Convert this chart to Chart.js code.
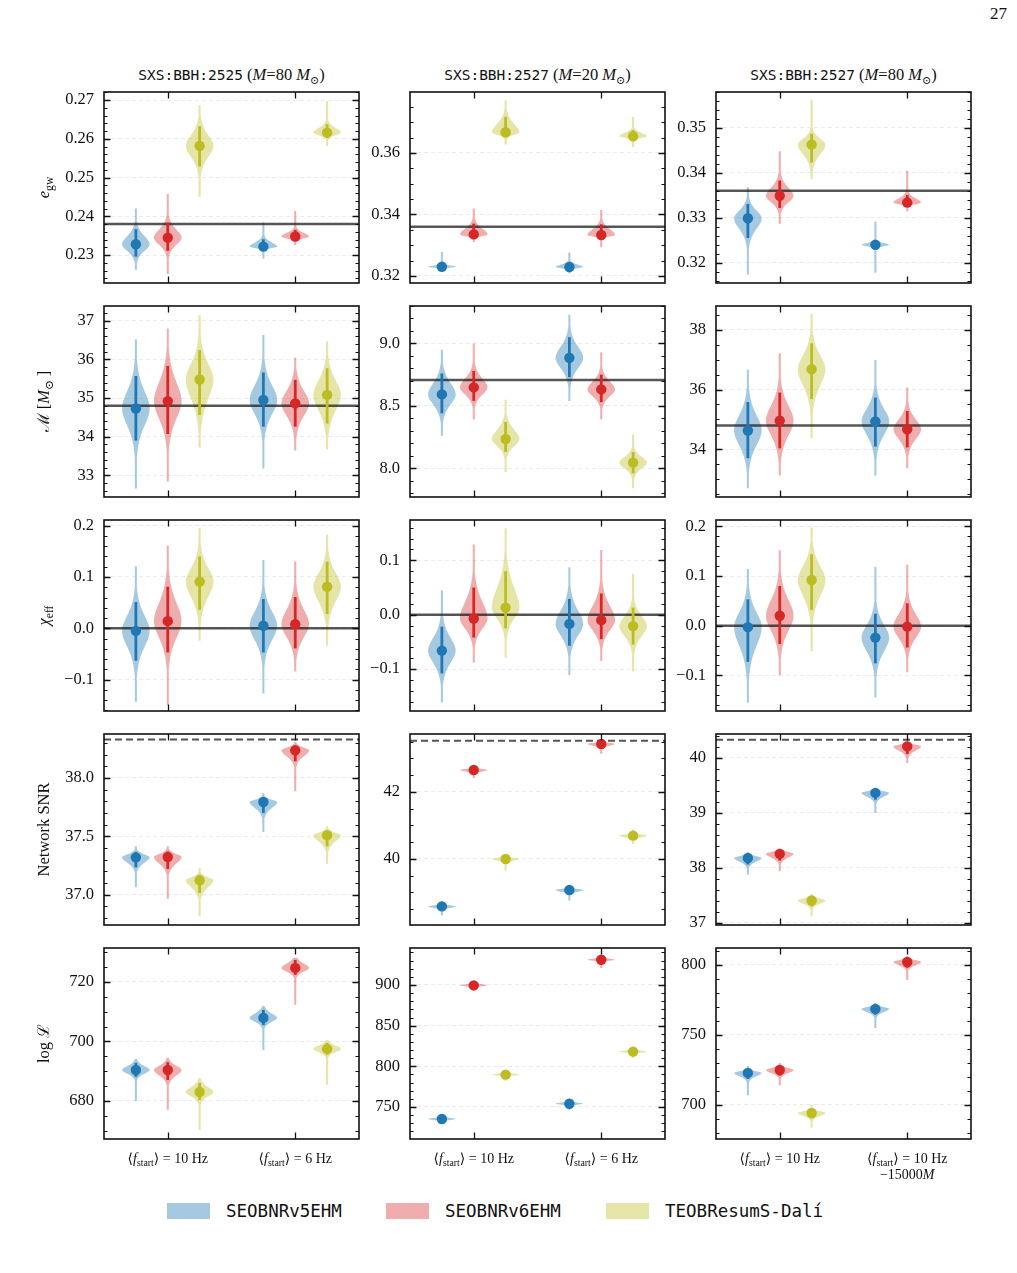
<!DOCTYPE html>
<html>
<head>
<meta charset="utf-8">
<script src="https://cdn.jsdelivr.net/npm/chart.js@4.4.1/dist/chart.umd.min.js"></script>
<style>
  body { margin: 0; background: #fff; width: 1017px; height: 1273px; position: relative; overflow: hidden;
         font-family: 'Liberation Serif', 'DejaVu Serif', serif; color: #111; }
  canvas { position: absolute; }
  .title { position: absolute; top: 65px; width: 255px; text-align: center; font-size: 16.5px; white-space: nowrap; }
  .mono { font-family: 'DejaVu Sans Mono', monospace; font-size: 14.5px; }
  .title sub { font-size: 11px; }
  .leg { position: absolute; top: 1201px; display: flex; align-items: center; }
  .leg span.patch { display: inline-block; width: 43px; height: 16px; margin-right: 16px; }
  .leg span.txt { font-family: 'DejaVu Sans Mono', monospace; font-size: 17.5px; }
  .page { position: absolute; left: 990px; top: 4px; font-size: 17px; }
</style>
</head>
<body>
<div class="page">27</div>
<div class="title" style="left:104px"><span class="mono">SXS:BBH:2525</span> (<i>M</i>=80 <i>M</i><sub>⊙</sub>)</div>
<div class="title" style="left:410px"><span class="mono">SXS:BBH:2527</span> (<i>M</i>=20 <i>M</i><sub>⊙</sub>)</div>
<div class="title" style="left:716px"><span class="mono">SXS:BBH:2527</span> (<i>M</i>=80 <i>M</i><sub>⊙</sub>)</div>

<div class="leg" style="left:167px"><span class="patch" style="background:rgba(31,119,180,0.4)"></span><span class="txt">SEOBNRv5EHM</span></div>
<div class="leg" style="left:386px"><span class="patch" style="background:rgba(214,39,40,0.38)"></span><span class="txt">SEOBNRv6EHM</span></div>
<div class="leg" style="left:606px"><span class="patch" style="background:rgba(188,189,34,0.4)"></span><span class="txt">TEOBResumS-Dalí</span></div>

<script>
// models (violin colours) and their offset around each f_start category
const MODELS = ['SEOBNRv5EHM', 'SEOBNRv6EHM', 'TEOBResumS-Dalí'];
const FILL = ['rgba(31,119,180,0.4)', 'rgba(214,39,40,0.38)', 'rgba(188,189,34,0.4)'];
const SOLID = ['#1f77b4', '#d62728', '#bcbd22'];
const OFFSET = [-0.25, 0, 0.25];

// rows: [model, category, median, 90% low, 90% high, min, max]
const eccGw2525_80 = [
  [0, 0, 0.2328, 0.2296, 0.2367, 0.2262, 0.2420],
  [1, 0, 0.2345, 0.2311, 0.2384, 0.2251, 0.2458],
  [2, 0, 0.2582, 0.2529, 0.2633, 0.2450, 0.2687],
  [0, 1, 0.2322, 0.2315, 0.2341, 0.2291, 0.2384],
  [1, 1, 0.2348, 0.2339, 0.2365, 0.2326, 0.2414],
  [2, 1, 0.2616, 0.2604, 0.2638, 0.2582, 0.2698]
];
const eccGw2527_20 = [
  [0, 0, 0.3230, 0.3224, 0.3237, 0.3216, 0.3278],
  [1, 0, 0.3335, 0.3324, 0.3370, 0.3310, 0.3419],
  [2, 0, 0.3667, 0.3652, 0.3717, 0.3627, 0.3771],
  [0, 1, 0.3229, 0.3222, 0.3243, 0.3209, 0.3276],
  [1, 1, 0.3333, 0.3324, 0.3368, 0.3294, 0.3414],
  [2, 1, 0.3654, 0.3645, 0.3674, 0.3619, 0.3717]
];
const eccGw2527_80 = [
  [0, 0, 0.3299, 0.3255, 0.3331, 0.3174, 0.3368],
  [1, 0, 0.3349, 0.3322, 0.3383, 0.3287, 0.3448],
  [2, 0, 0.3463, 0.3423, 0.3487, 0.3386, 0.3563],
  [0, 1, 0.3240, 0.3234, 0.3247, 0.3178, 0.3292],
  [1, 1, 0.3334, 0.3327, 0.3351, 0.3314, 0.3405]
];

const chirp2525_80 = [
  [0, 0, 34.73, 33.90, 35.57, 32.66, 36.52],
  [1, 0, 34.92, 34.07, 35.83, 32.84, 36.80],
  [2, 0, 35.48, 34.56, 36.24, 33.72, 37.15],
  [0, 1, 34.95, 34.26, 35.66, 33.18, 36.63],
  [1, 1, 34.86, 34.26, 35.47, 33.64, 36.05],
  [2, 1, 35.08, 34.34, 35.77, 33.67, 36.46]
];
const chirp2527_20 = [
  [0, 0, 8.592, 8.44, 8.76, 8.26, 8.95],
  [1, 0, 8.648, 8.54, 8.78, 8.39, 9.00],
  [2, 0, 8.235, 8.13, 8.37, 7.97, 8.55],
  [0, 1, 8.885, 8.73, 9.05, 8.54, 9.23],
  [1, 1, 8.632, 8.53, 8.75, 8.39, 8.93],
  [2, 1, 8.045, 7.96, 8.13, 7.84, 8.27]
];
const chirp2527_80 = [
  [0, 0, 34.63, 33.70, 35.58, 32.69, 36.66],
  [1, 0, 34.96, 34.03, 35.90, 33.12, 37.22],
  [2, 0, 36.68, 35.68, 37.55, 34.37, 38.54],
  [0, 1, 34.93, 34.09, 35.73, 33.11, 36.99],
  [1, 1, 34.67, 34.06, 35.28, 33.36, 36.07]
];

const chiEff2525_80 = [
  [0, 0, -0.005, -0.063, 0.051, -0.143, 0.121],
  [1, 0, 0.014, -0.047, 0.081, -0.150, 0.161],
  [2, 0, 0.091, 0.036, 0.140, -0.024, 0.195],
  [0, 1, 0.005, -0.047, 0.057, -0.127, 0.133],
  [1, 1, 0.008, -0.039, 0.061, -0.084, 0.130],
  [2, 1, 0.081, 0.028, 0.130, -0.034, 0.183]
];
const chiEff2527_20 = [
  [0, 0, -0.066, -0.108, -0.022, -0.161, 0.045],
  [1, 0, -0.007, -0.042, 0.050, -0.088, 0.129],
  [2, 0, 0.013, -0.025, 0.080, -0.079, 0.159],
  [0, 1, -0.017, -0.057, 0.029, -0.111, 0.087],
  [1, 1, -0.010, -0.045, 0.039, -0.085, 0.119],
  [2, 1, -0.021, -0.055, 0.013, -0.104, 0.075]
];
const chiEff2527_80 = [
  [0, 0, -0.003, -0.073, 0.053, -0.155, 0.114],
  [1, 0, 0.020, -0.037, 0.080, -0.100, 0.152],
  [2, 0, 0.092, 0.032, 0.144, -0.051, 0.198],
  [0, 1, -0.024, -0.076, 0.024, -0.145, 0.119],
  [1, 1, -0.002, -0.044, 0.045, -0.094, 0.123]
];

const snr2525_80 = [
  [0, 0, 37.320, 37.234, 37.366, 37.063, 37.414],
  [1, 0, 37.323, 37.220, 37.370, 36.966, 37.414],
  [2, 0, 37.123, 37.014, 37.170, 36.814, 37.229],
  [0, 1, 37.794, 37.700, 37.830, 37.537, 37.871],
  [1, 1, 38.237, 38.143, 38.280, 37.886, 38.309],
  [2, 1, 37.509, 37.414, 37.550, 37.266, 37.586]
];
const snr2527_20 = [
  [0, 0, 38.587, 38.50, 38.64, 38.31, 38.74],
  [1, 0, 42.657, 42.57, 42.71, 42.42, 42.77],
  [2, 0, 40.000, 39.91, 40.06, 39.65, 40.13],
  [0, 1, 39.075, 38.98, 39.13, 38.76, 39.21],
  [1, 1, 43.433, 43.34, 43.49, 43.14, 43.56],
  [2, 1, 40.697, 40.60, 40.76, 40.45, 40.88]
];
const snr2527_80 = [
  [0, 0, 38.180, 38.06, 38.24, 37.88, 38.29],
  [1, 0, 38.255, 38.13, 38.32, 37.94, 38.35],
  [2, 0, 37.406, 37.30, 37.47, 37.12, 37.53],
  [0, 1, 39.364, 39.24, 39.42, 39.00, 39.45],
  [1, 1, 40.210, 40.07, 40.27, 39.91, 40.32]
];

const logL2525_80 = [
  [0, 0, 690.4, 688.1, 692.8, 680.0, 694.1],
  [1, 0, 690.4, 687.0, 693.0, 677.0, 694.5],
  [2, 0, 683.0, 680.3, 686.0, 670.3, 687.7],
  [0, 1, 707.9, 705.5, 710.6, 697.1, 711.9],
  [1, 1, 724.7, 722.4, 727.4, 712.3, 728.1],
  [2, 1, 697.5, 695.5, 699.5, 685.4, 700.5]
];
const logL2527_20 = [
  [0, 0, 735.2, 733.0, 737.5, 729.0, 741.4],
  [1, 0, 899.5, 897.5, 902.0, 892.6, 905.0],
  [2, 0, 789.8, 787.8, 792.0, 782.0, 795.5],
  [0, 1, 754.0, 752.0, 756.5, 746.0, 760.0],
  [1, 1, 931.0, 929.0, 933.5, 920.9, 936.9],
  [2, 1, 818.0, 816.0, 820.5, 810.0, 823.8]
];
const logL2527_80 = [
  [0, 0, 722.9, 718.6, 725.0, 707.0, 727.9],
  [1, 0, 725.0, 721.0, 727.5, 714.0, 730.0],
  [2, 0, 694.3, 690.5, 696.5, 684.0, 700.0],
  [0, 1, 768.6, 764.5, 771.0, 755.0, 772.9],
  [1, 1, 802.1, 798.0, 804.5, 789.3, 806.4]
];

// injected values (solid lines) and optimal SNR (dashed)
const eccInjected = [0.238, 0.336, 0.336];
const chirpInjected = [34.8, 8.707, 34.8];
const chiInjected = [0, 0, 0];
const snrOptimal = [38.329, 43.532, 40.333];

// y ranges and tick labels
const yRangeEcc = [[0.2228, 0.2721], [0.3177, 0.3798], [0.3155, 0.3580]];
const yTicksEcc = [[0.23, 0.24, 0.25, 0.26, 0.27], [0.32, 0.34, 0.36], [0.32, 0.33, 0.34, 0.35]];
const yRangeChirp = [[32.44, 37.38], [7.77, 9.30], [32.40, 38.80]];
const yTicksChirp = [[33, 34, 35, 36, 37], [8.0, 8.5, 9.0], [34, 36, 38]];
const yRangeChi = [[-0.161, 0.211], [-0.177, 0.174], [-0.172, 0.213]];
const yTicksChi = [[-0.1, 0, 0.1, 0.2], [-0.1, 0, 0.1], [-0.1, 0, 0.1, 0.2]];
const yRangeSnr = [[36.74, 38.377], [38.03, 43.73], [36.96, 40.436]];
const yTicksSnr = [[37.0, 37.5, 38.0], [40, 42], [37, 38, 39, 40]];
const yRangeLogL = [[667.2, 731.4], [710.6, 945.5], [675.7, 812.1]];
const yTicksLogL = [[680, 700, 720], [750, 800, 850, 900], [700, 750, 800]];

const SERIF = "'Liberation Serif', 'DejaVu Serif', serif";

const fStart10 = [['⟨', ''], ['f', 'i'], ['start', 's'], ['⟩ = 10 Hz', '']];
const fStart6 = [['⟨', ''], ['f', 'i'], ['start', 's'], ['⟩ = 6 Hz', '']];
const CATEGORY_LABELS = [
  [[fStart10], [fStart6]],
  [[fStart10], [fStart6]],
  [[fStart10], [fStart10, [['−15000', ''], ['M', 'i']]]]
];

const ROWS = [
  { sets: [eccGw2525_80, eccGw2527_20, eccGw2527_80], ranges: yRangeEcc, ticks: yTicksEcc,
    minor: [0.002, 0.005, 0.002], dec: [2, 2, 2], ref: eccInjected, dashed: false,
    label: [['e', 'i'], ['gw', 's']] },
  { sets: [chirp2525_80, chirp2527_20, chirp2527_80], ranges: yRangeChirp, ticks: yTicksChirp,
    minor: [0.2, 0.1, 0.5], dec: [0, 1, 0], ref: chirpInjected, dashed: false,
    label: [['ℳ', ''], [' [', ''], ['M', 'i'], ['⊙', 's'], [' ]', '']] },
  { sets: [chiEff2525_80, chiEff2527_20, chiEff2527_80], ranges: yRangeChi, ticks: yTicksChi,
    minor: [0.02, 0.02, 0.02], dec: [1, 1, 1], ref: chiInjected, dashed: false,
    label: [['χ', 'i'], ['eff', 's']] },
  { sets: [snr2525_80, snr2527_20, snr2527_80], ranges: yRangeSnr, ticks: yTicksSnr,
    minor: [0.1, 0.5, 0.2], dec: [1, 0, 0], ref: snrOptimal, dashed: true,
    label: [['Network SNR', '']] },
  { sets: [logL2525_80, logL2527_20, logL2527_80], ranges: yRangeLogL, ticks: yTicksLogL,
    minor: [5, 10, 10], dec: [0, 0, 0], ref: null, dashed: false,
    label: [['log ', ''], ['ℒ', '']] }
];

const PLOT_LEFT = [104, 410, 716];
const PLOT_TOP = [92, 306, 520, 734, 948];
const PLOT_W = 255, PLOT_H = 191;
const MARGIN_L = 84, MARGIN_T = 8, MARGIN_R = 8;
const VIOLIN_HALF = 0.108;  // max half-width in x units
const TAIL_HALF = 0.008;

function halfWidth(v, row) {
  const med = row[2], lo = row[3], hi = row[4];
  const s = v >= med ? (hi - med) / 1.7 : (med - lo) / 1.7;
  const z = (v - med) / s;
  const d = Math.pow(1 + z * z / 5, -3);
  return Math.max(d * VIOLIN_HALF, TAIL_HALF);
}

function drawRich(ctx, segs, cx, cy, size) {
  const parts = segs.map(([t, st]) => {
    const sub = st.includes('s');
    const fs = sub ? size * 0.7 : size;
    const font = (st.includes('i') ? 'italic ' : '') + fs + 'px ' + SERIF;
    ctx.font = font;
    return { t, font, w: ctx.measureText(t).width, dy: sub ? size * 0.3 : 0 };
  });
  const total = parts.reduce((a, p) => a + p.w, 0);
  let x = cx - total / 2;
  ctx.textAlign = 'left';
  ctx.textBaseline = 'middle';
  parts.forEach(p => { ctx.font = p.font; ctx.fillText(p.t, x, cy + p.dy); x += p.w; });
}

function makePlugin(r, c) {
  const row = ROWS[r];
  const set = row.sets[c];
  return {
    id: 'violins',
    beforeDatasetsDraw(chart) {
      const { ctx, chartArea: a, scales: { x, y } } = chart;
      ctx.save();
      ctx.beginPath();
      ctx.rect(a.left, a.top, a.right - a.left, a.bottom - a.top);
      ctx.clip();
      // violin bodies
      set.forEach(v => {
        const cx = v[1] + OFFSET[v[0]];
        const n = 140, mn = v[5], mx = v[6];
        ctx.beginPath();
        for (let i = 0; i <= n; i++) {
          const val = mn + (mx - mn) * i / n;
          const px = x.getPixelForValue(cx - halfWidth(val, v));
          const py = y.getPixelForValue(val);
          i === 0 ? ctx.moveTo(px, py) : ctx.lineTo(px, py);
        }
        for (let i = n; i >= 0; i--) {
          const val = mn + (mx - mn) * i / n;
          ctx.lineTo(x.getPixelForValue(cx + halfWidth(val, v)), y.getPixelForValue(val));
        }
        ctx.closePath();
        ctx.fillStyle = FILL[v[0]];
        ctx.fill();
      });
      // reference line
      if (row.ref) {
        const py = y.getPixelForValue(row.ref[c]);
        ctx.beginPath();
        ctx.moveTo(a.left, py);
        ctx.lineTo(a.right, py);
        if (row.dashed) {
          ctx.setLineDash([7, 4]);
          ctx.strokeStyle = '#555';
          ctx.lineWidth = 2;
        } else {
          ctx.strokeStyle = 'rgba(30,30,30,0.75)';
          ctx.lineWidth = 2.5;
        }
        ctx.stroke();
        ctx.setLineDash([]);
      }
      // 90% credible intervals
      set.forEach(v => {
        const px = x.getPixelForValue(v[1] + OFFSET[v[0]]);
        ctx.beginPath();
        ctx.moveTo(px, y.getPixelForValue(v[3]));
        ctx.lineTo(px, y.getPixelForValue(v[4]));
        ctx.strokeStyle = SOLID[v[0]];
        ctx.lineWidth = 2.8;
        ctx.stroke();
      });
      ctx.restore();
    },
    afterDraw(chart) {
      const { ctx, chartArea: a, scales: { x, y } } = chart;
      ctx.save();
      ctx.strokeStyle = '#111';
      ctx.lineWidth = 1;
      // minor and major ticks, pointing inward on both sides
      const step = row.minor[c];
      for (let k = Math.ceil(y.min / step - 1e-6); k * step <= y.max + 1e-9; k++) {
        const py = Math.round(y.getPixelForValue(k * step)) + 0.5;
        ctx.beginPath();
        ctx.moveTo(a.left, py); ctx.lineTo(a.left + 3.5, py);
        ctx.moveTo(a.right, py); ctx.lineTo(a.right - 3.5, py);
        ctx.stroke();
      }
      ctx.lineWidth = 1.3;
      row.ticks[c].forEach(t => {
        const py = Math.round(y.getPixelForValue(t)) + 0.5;
        ctx.beginPath();
        ctx.moveTo(a.left, py); ctx.lineTo(a.left + 6.5, py);
        ctx.moveTo(a.right, py); ctx.lineTo(a.right - 6.5, py);
        ctx.stroke();
      });
      [0, 1].forEach(t => {
        const px = Math.round(x.getPixelForValue(t)) + 0.5;
        ctx.beginPath();
        ctx.moveTo(px, a.top); ctx.lineTo(px, a.top + 6.5);
        ctx.moveTo(px, a.bottom); ctx.lineTo(px, a.bottom - 6.5);
        ctx.stroke();
      });
      // frame
      ctx.lineWidth = 1.6;
      ctx.strokeRect(a.left, a.top, a.right - a.left, a.bottom - a.top);
      ctx.fillStyle = '#111';
      // y-axis title on the first column
      if (c === 0) {
        ctx.save();
        ctx.translate(25, (a.top + a.bottom) / 2);
        ctx.rotate(-Math.PI / 2);
        drawRich(ctx, row.label, 0, 0, 16.5);
        ctx.restore();
      }
      // category labels on the bottom row
      if (r === ROWS.length - 1) {
        CATEGORY_LABELS[c].forEach((lines, t) => {
          const px = x.getPixelForValue(t);
          lines.forEach((segs, li) => drawRich(ctx, segs, px, a.bottom + 20 + li * 16, 14));
        });
      }
      ctx.restore();
    }
  };
}

ROWS.forEach((row, r) => {
  row.sets.forEach((set, c) => {
    const bottom = r === ROWS.length - 1 ? 60 : 8;
    const canvas = document.createElement('canvas');
    canvas.width = MARGIN_L + PLOT_W + MARGIN_R;
    canvas.height = MARGIN_T + PLOT_H + bottom;
    canvas.style.left = (PLOT_LEFT[c] - MARGIN_L) + 'px';
    canvas.style.top = (PLOT_TOP[r] - MARGIN_T) + 'px';
    document.body.appendChild(canvas);

    const dots = set.map(v => ({ x: v[1] + OFFSET[v[0]], y: v[2] }));
    const dotColors = set.map(v => SOLID[v[0]]);
    const fmt = v => v.toFixed(row.dec[c]).replace('-', '−');

    new Chart(canvas.getContext('2d'), {
      type: 'scatter',
      data: {
        datasets: [{
          label: 'median',
          data: dots,
          pointRadius: 5.2,
          pointBackgroundColor: dotColors,
          pointBorderColor: dotColors,
          pointBorderWidth: 0
        }]
      },
      options: {
        responsive: false,
        animation: false,
        events: [],
        layout: { autoPadding: false, padding: { left: 0, top: MARGIN_T, right: MARGIN_R, bottom: bottom } },
        plugins: { legend: { display: false }, tooltip: { enabled: false } },
        scales: {
          x: { type: 'linear', min: -0.5, max: 1.5, display: false },
          y: {
            type: 'linear',
            min: row.ranges[c][0],
            max: row.ranges[c][1],
            afterBuildTicks: s => { s.ticks = row.ticks[c].map(v => ({ value: v })); },
            afterFit: s => { s.width = MARGIN_L; s.paddingTop = 0; s.paddingBottom = 0; },
            ticks: {
              font: { family: SERIF, size: 16.5 },
              color: '#111',
              padding: 10,
              callback: v => fmt(v)
            },
            grid: { color: 'rgba(0,0,0,0.08)', lineWidth: 1, drawTicks: false },
            border: { display: false, dash: [4, 3] }
          }
        }
      },
      plugins: [makePlugin(r, c)]
    });
  });
});
</script>
</body>
</html>
